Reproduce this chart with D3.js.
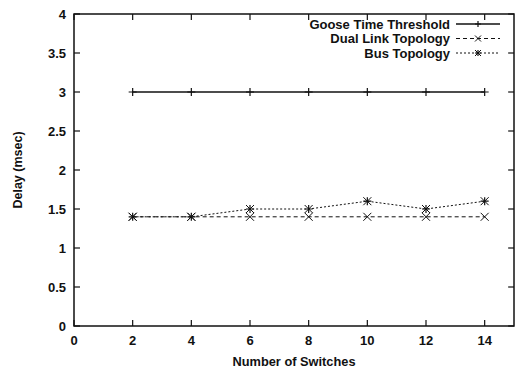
<!DOCTYPE html>
<html>
<head>
<meta charset="utf-8">
<script src="https://cdn.jsdelivr.net/npm/d3@7"></script>
<style>
  html, body { margin: 0; padding: 0; background: #fff; }
  svg { display: block; font-family: "Liberation Sans", Arial, sans-serif; }
</style>
</head>
<body>
<svg id="chart"></svg>
<script>
// ── Data ─────────────────────────────────────────────
const switches  = [2, 4, 6, 8, 10, 12, 14];
const gooseTime = [3, 3, 3, 3, 3, 3, 3];
const dualLink  = [1.4, 1.4, 1.4, 1.4, 1.4, 1.4, 1.4];
const busTopo   = [1.4, 1.4, 1.5, 1.5, 1.6, 1.5, 1.6];
const xTicks    = [0, 2, 4, 6, 8, 10, 12, 14];
const yTicks    = [0, 0.5, 1, 1.5, 2, 2.5, 3, 3.5, 4];
const seriesNames = ['Goose Time Threshold', 'Dual Link Topology', 'Bus Topology'];

// ── Layout ───────────────────────────────────────────
const W = 515, H = 369;
const m = { left: 74, right: 1, top: 14, bottom: 43 };

const svg = d3.select('#chart').attr('width', W).attr('height', H);

const x = d3.scaleLinear().domain([0, 15]).range([m.left, W - m.right]);
const y = d3.scaleLinear().domain([0, 4]).range([H - m.bottom, m.top]);

const ink = '#111';

// Frame
svg.append('rect')
  .attr('x', x(0)).attr('y', y(4))
  .attr('width', x(15) - x(0)).attr('height', y(0) - y(4))
  .attr('fill', 'none').attr('stroke', ink).attr('stroke-width', 1.5);

// Inner ticks, mirrored on all sides
const tickLen = 6;
const tickG = svg.append('g').attr('stroke', ink).attr('stroke-width', 1.2);
xTicks.forEach(v => {
  tickG.append('line').attr('x1', x(v)).attr('x2', x(v)).attr('y1', y(0)).attr('y2', y(0) - tickLen);
  tickG.append('line').attr('x1', x(v)).attr('x2', x(v)).attr('y1', y(4)).attr('y2', y(4) + tickLen);
});
yTicks.forEach(v => {
  tickG.append('line').attr('x1', x(0)).attr('x2', x(0) + tickLen).attr('y1', y(v)).attr('y2', y(v));
  tickG.append('line').attr('x1', x(15)).attr('x2', x(15) - tickLen).attr('y1', y(v)).attr('y2', y(v));
});

// Tick labels
svg.append('g').selectAll('text').data(xTicks).join('text')
  .attr('x', d => x(d)).attr('y', y(0) + 19)
  .attr('text-anchor', 'middle')
  .attr('font-size', 13).attr('font-weight', 'bold').attr('fill', ink)
  .text(d => d);

svg.append('g').selectAll('text').data(yTicks).join('text')
  .attr('x', x(0) - 8).attr('y', d => y(d) + 5)
  .attr('text-anchor', 'end')
  .attr('font-size', 13).attr('font-weight', 'bold').attr('fill', ink)
  .text(d => d);

// Axis titles
svg.append('text')
  .attr('x', 294).attr('y', 366)
  .attr('text-anchor', 'middle')
  .attr('font-size', 12.8).attr('font-weight', 'bold').attr('fill', ink)
  .text('Number of Switches');

svg.append('text')
  .attr('transform', `translate(22,170) rotate(-90)`)
  .attr('text-anchor', 'middle')
  .attr('font-size', 12.5).attr('font-weight', 'bold').attr('fill', ink)
  .text('Delay (msec)');

// ── Series ───────────────────────────────────────────
const line = d3.line().x(d => x(d[0])).y(d => y(d[1]));

function plus(g, cx, cy, s) {
  g.append('path').attr('d', `M${cx - s},${cy}H${cx + s}M${cx},${cy - s}V${cy + s}`)
    .attr('stroke', ink).attr('stroke-width', 1.2).attr('fill', 'none');
}
function cross(g, cx, cy, s) {
  g.append('path').attr('d', `M${cx - s},${cy - s}L${cx + s},${cy + s}M${cx - s},${cy + s}L${cx + s},${cy - s}`)
    .attr('stroke', ink).attr('stroke-width', 1).attr('fill', 'none');
}
function star(g, cx, cy, s) {
  cross(g, cx, cy, s);
  plus(g, cx, cy, s);
}

const series = [
  { name: seriesNames[0], vals: gooseTime, dash: null,  marker: plus,  ms: 4 },
  { name: seriesNames[1], vals: dualLink,  dash: '4,3', marker: cross, ms: 4 },
  { name: seriesNames[2], vals: busTopo,   dash: '2,2', marker: star,  ms: 4 },
];

const plotG = svg.append('g');
series.forEach(s => {
  const pts = switches.map((v, i) => [v, s.vals[i]]);
  plotG.append('path')
    .attr('d', line(pts))
    .attr('fill', 'none').attr('stroke', ink).attr('stroke-width', s.dash ? 1 : 1.5)
    .attr('stroke-dasharray', s.dash);
  pts.forEach(p => s.marker(plotG, x(p[0]), y(p[1]), s.ms));
});

// ── Legend ───────────────────────────────────────────
const legG = svg.append('g');
series.forEach((s, i) => {
  const ly = 24 + i * 14.5;
  legG.append('text')
    .attr('x', 450).attr('y', ly + 4.5)
    .attr('text-anchor', 'end')
    .attr('font-size', 13).attr('font-weight', 'bold').attr('fill', ink)
    .text(s.name);
  legG.append('line')
    .attr('x1', 456).attr('x2', 500).attr('y1', ly).attr('y2', ly)
    .attr('stroke', ink).attr('stroke-width', s.dash ? 1 : 1.5)
    .attr('stroke-dasharray', s.dash);
  s.marker(legG, 478, ly, 3);
});
</script>
</body>
</html>
